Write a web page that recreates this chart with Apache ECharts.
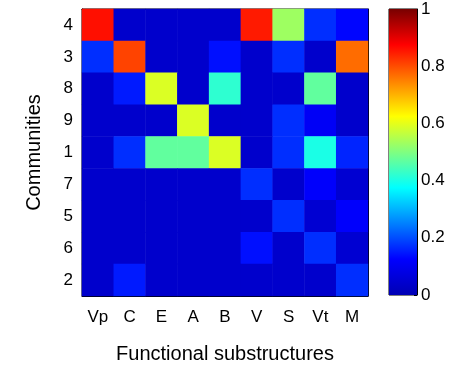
<!DOCTYPE html>
<html><head><meta charset="utf-8">
<script src="https://cdn.jsdelivr.net/npm/echarts@6/dist/echarts.min.js"></script>
<style>html,body{margin:0;padding:0;background:#fff}#c{width:457px;height:372px}</style>
</head><body><div id="c"></div>
<script>
const substructures = ['Vp','C','E','A','B','V','S','Vt','M'];
const communities = ['4','3','8','9','1','7','5','6','2']; // top to bottom
const row4 = [0.86,0.04,0.04,0.04,0.04,0.85,0.53,0.17,0.13];
const row3 = [0.17,0.81,0.04,0.04,0.14,0.04,0.17,0.04,0.77];
const row8 = [0.04,0.15,0.59,0.04,0.42,0.04,0.04,0.47,0.04];
const row9 = [0.04,0.04,0.04,0.59,0.04,0.04,0.17,0.11,0.04];
const row1 = [0.04,0.17,0.47,0.47,0.59,0.04,0.17,0.40,0.16];
const row7 = [0.04,0.04,0.04,0.04,0.04,0.17,0.04,0.12,0.05];
const row5 = [0.04,0.04,0.04,0.04,0.04,0.04,0.17,0.05,0.12];
const row6 = [0.04,0.04,0.04,0.04,0.04,0.14,0.04,0.17,0.05];
const row2 = [0.04,0.15,0.04,0.04,0.04,0.04,0.04,0.04,0.17];
const rows = [row4,row3,row8,row9,row1,row7,row5,row6,row2];
const colorbarTicks = [0,0.2,0.4,0.6,0.8,1];

// jet-like colormap, evenly spaced stops (every 1/8)
const jet = ['#0000B4','#0000FF','#0080FF','#00FFFF','#80FF80','#FFFF00','#FF8000','#FF0000','#780000'];

const data = [];
rows.forEach((r, i) => r.forEach((v, j) => data.push([j, communities.length - 1 - i, v])));
const yCats = communities.slice().reverse();

const font = 'Liberation Sans, Arial, Helvetica, sans-serif';
const chart = echarts.init(document.getElementById('c'), null, {renderer:'canvas'});
chart.setOption({
  animation:false,
  textStyle:{fontFamily:font},
  grid:[
    {left:82, top:9, width:286, height:287, show:true, borderColor:'#000', borderWidth:1, backgroundColor:'transparent'},
    {left:389, top:9, width:28, height:286, show:true, borderColor:'#000', borderWidth:1}
  ],
  visualMap:{show:false, min:0, max:1, seriesIndex:0, inRange:{color:jet}},
  xAxis:[
    {type:'category', data:substructures, gridIndex:0, position:'bottom',
     axisLine:{lineStyle:{color:'#000'}}, axisTick:{alignWithLabel:true, length:3, lineStyle:{color:'#000'}},
     axisLabel:{color:'#000', fontSize:17, margin:13, fontFamily:font},
     name:'Functional substructures', nameLocation:'middle', nameGap:48,
     nameTextStyle:{color:'#000', fontSize:20, fontFamily:font}},
    {type:'category', data:substructures, gridIndex:0, position:'top',
     axisLine:{lineStyle:{color:'#000'}}, axisTick:{alignWithLabel:true, length:3, lineStyle:{color:'#000'}},
     axisLabel:{show:false}},
    {type:'category', data:['cb'], gridIndex:1, show:false}
  ],
  yAxis:[
    {type:'category', data:yCats, gridIndex:0, position:'left',
     axisLine:{lineStyle:{color:'#000'}}, axisTick:{alignWithLabel:true, length:3, lineStyle:{color:'#000'}},
     axisLabel:{color:'#000', fontSize:17, margin:9, fontFamily:font},
     name:'Communities', nameLocation:'middle', nameGap:38, nameRotate:90,
     nameTextStyle:{color:'#000', fontSize:20, fontFamily:font}},
    {type:'category', data:yCats, gridIndex:0, position:'right',
     axisLine:{lineStyle:{color:'#000'}}, axisTick:{alignWithLabel:true, length:3, lineStyle:{color:'#000'}},
     axisLabel:{show:false}},
    {type:'value', gridIndex:1, min:0, max:1, interval:0.2, position:'right',
     axisLine:{show:true, lineStyle:{color:'#000'}}, axisTick:{show:true, inside:true, length:3, lineStyle:{color:'#000'}},
     splitLine:{show:false},
     axisLabel:{color:'#000', fontSize:17, margin:4, fontFamily:font,
       formatter:v => colorbarTicks.some(t => Math.abs(t - v) < 1e-9) ? String(+v.toFixed(1)) : ''}}
  ],
  series:[
    {type:'heatmap', xAxisIndex:0, yAxisIndex:0, data:data, itemStyle:{borderWidth:0}},
    {type:'bar', xAxisIndex:2, yAxisIndex:2, data:[1], barWidth:'100%', silent:true,
     itemStyle:{color:new echarts.graphic.LinearGradient(0,1,0,0,
        jet.map((c,i)=>({offset:i/(jet.length-1), color:c})))}}
  ]
});
</script></body></html>
